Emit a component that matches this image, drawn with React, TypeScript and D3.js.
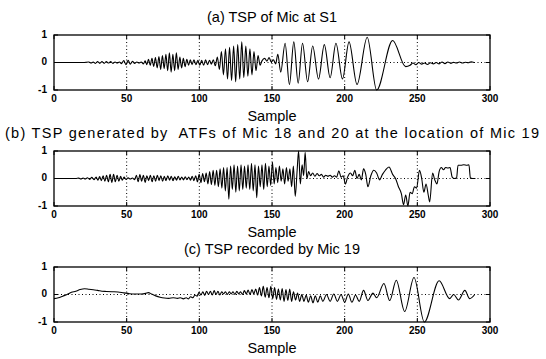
import React from 'react';
import * as d3 from 'd3';

// --- DATA ---
const xTicks = [0, 50, 100, 150, 200, 250, 300];
const yTicks = [-1, 0, 1];
const titles = [
  '(a) TSP of Mic at S1',
  '(b) TSP generated by  ATFs of Mic 18 and 20 at the location of Mic 19',
  '(c) TSP recorded by Mic 19',
];
const xLabel = 'Sample';

// [sample, amplitude] turning points
const tspMicS1: [number, number][] = [
  [0, 0], [20, 0], [24, 0.02], [25.5, -0.02], [27, 0.02], [28.5, -0.03], [30, 0.03], [31.5, -0.03],
  [33, 0.03], [34.5, -0.03], [36, 0.03], [37.5, -0.02], [39, 0.03], [40.5, -0.03], [42, 0.02],
  [43.5, -0.02], [45, 0.02], [46.5, -0.04], [48, 0.07], [49.5, -0.08], [51, 0.08], [52.5, -0.06],
  [54, 0.04], [55.5, -0.03], [57, 0.02], [58.5, -0.02], [60, 0.02],
  [61.5, -0.05], [62.7, 0.06], [63.9, -0.08], [65, 0.12], [66.2, -0.1], [67.4, 0.15], [68.6, -0.14],
  [69.8, 0.18], [71, -0.2], [72.2, 0.22], [73.4, -0.25], [74.6, 0.25], [75.8, -0.22], [77, 0.3],
  [78.2, -0.3], [79.4, 0.35], [80.6, -0.35], [81.8, 0.3], [83, -0.3], [84.2, 0.35], [85.4, -0.25],
  [86.6, 0.2], [87.8, -0.2], [89, 0.15], [90.2, -0.15], [91.4, 0.12], [92.6, -0.1], [93.8, 0.1], [95, -0.08],
  [96.3, 0.1], [97.6, -0.08], [99, 0.08], [100.3, -0.1], [101.6, 0.08], [103, -0.1], [104.3, 0.1],
  [105.6, -0.08], [107, 0.08], [108.3, -0.06], [109.6, 0.1], [111, -0.12],
  [112.4, 0.2], [113.8, -0.25], [115.2, 0.4], [116.6, -0.45], [118, 0.5], [119.4, -0.6], [120.8, 0.55],
  [122.2, -0.65], [123.6, 0.6], [125, -0.7], [126.4, 0.65], [127.8, -0.6], [129.2, 0.75], [130.6, -0.55],
  [132, 0.6], [133.4, -0.5], [134.8, 0.5], [136.2, -0.45], [137.6, 0.4], [139, -0.3], [140.4, 0.25],
  [141.8, -0.1], [143, 0.05], [145, 0.15], [146.5, 0.05], [148, 0.18], [149.5, 0.02], [151, 0.1], [152.5, -0.05],
  [154, 0.3], [156, -0.35], [159, 0.7], [162, -0.8], [165, 0.75], [168, -0.75], [171, 0.7], [174.5, -0.7],
  [178, 0.6], [182, -0.6], [186, 0.65], [190, -0.55], [194, 0.7], [198.5, -0.6], [203, 0.75], [208.5, -0.8],
  [215.5, 0.92], [222, -1.0], [233, 0.8], [242, -0.15], [245, -0.1],
  [247, -0.02], [249, -0.08], [251, 0.0], [253, -0.06], [255, -0.02], [257, -0.07], [259, -0.01],
  [261, -0.05], [263, 0.0], [265, -0.05], [267, 0.02], [269, -0.04], [271, 0.02], [273, -0.03],
  [275, 0.01], [277, -0.02], [279, 0.02], [281, -0.02], [283, 0.01], [285, -0.01], [287, 0.03], [289, 0.0],
];

const tspGenerated: [number, number][] = [
  [0, 0], [15, 0], [17, 0.02], [18.5, -0.02], [20, 0.02], [21.5, -0.02], [23, 0.03], [24.5, -0.03],
  [26, 0.04], [27.5, -0.04], [29, 0.05],
  [30.2, -0.06], [31.4, 0.07], [32.6, -0.08], [33.8, 0.1], [35, -0.1], [36.2, 0.12], [37.4, -0.12],
  [38.6, 0.15], [39.8, -0.14], [41, 0.15], [42.2, -0.12], [43.4, 0.12], [44.6, -0.1], [45.8, 0.08],
  [47, -0.06], [48.2, 0.05], [49.5, -0.03], [51, 0.03], [52.5, -0.02], [54, 0.02], [55.5, -0.04],
  [56.7, 0.12], [57.9, -0.12], [59.1, 0.14], [60.3, -0.1], [61.5, 0.12], [62.7, -0.14], [63.9, 0.1],
  [65.1, -0.08], [66.3, 0.12], [67.5, -0.12], [68.7, 0.1], [69.9, -0.1], [71.1, 0.12], [72.3, -0.08],
  [73.5, 0.1], [74.7, -0.1], [75.9, 0.08], [77.1, -0.08], [78.3, 0.1], [79.5, -0.06], [80.7, 0.08],
  [81.9, -0.08], [83.1, 0.06], [84.3, -0.06], [85.5, 0.08], [86.7, -0.05], [87.9, 0.05], [89.1, -0.05],
  [90.3, 0.06], [91.5, -0.04], [92.7, 0.05], [93.9, -0.06], [95.1, 0.08],
  [96.3, -0.08], [97.5, 0.1], [98.7, -0.12], [99.9, 0.15], [101.1, -0.15], [102.3, 0.18], [103.5, -0.12],
  [104.7, 0.2], [105.9, -0.2], [107.1, 0.25], [108.3, -0.22], [109.5, 0.3], [110.7, -0.25], [111.9, 0.3],
  [113.1, -0.3], [114.3, 0.35], [115.5, -0.35], [116.7, 0.4], [117.9, -0.45], [119.1, 0.4], [120.3, -0.75],
  [121.5, 0.45], [122.7, -0.4], [123.9, 0.5], [125.1, -0.5], [126.3, 0.45], [127.5, -0.45], [128.7, 0.5],
  [129.9, -0.4], [131.1, 0.45], [132.3, -0.35], [133.5, 0.5], [134.7, -0.4], [135.9, 0.55], [137.1, -0.45],
  [138.3, 0.5], [139.5, -0.7], [140.7, 0.45], [141.9, -0.3], [143.1, 0.5], [144.3, -0.4], [145.5, 0.55],
  [146.7, -0.3], [147.9, 0.45], [149.1, -0.25], [150.3, 0.6], [151.5, -0.2], [152.7, 0.4], [153.9, -0.15],
  [155.1, 0.45], [156.3, -0.1], [157.5, 0.35], [158.7, -0.2], [159.9, 0.4], [161.1, -0.1], [162.3, 0.35],
  [163.5, -0.3], [164.7, 0.45], [166, -0.65], [167.3, 0.3], [168.3, 1.0], [169.5, -0.2], [170.7, 0.5],
  [171.8, 0.1], [172.8, 0.95], [174, 0.0], [175.2, 0.25],
  [176.5, 0.1], [178, 0.2], [179.5, 0.08], [181, 0.18], [182.5, 0.1], [184, 0.15], [185.5, 0.05],
  [187, 0.12], [188.5, 0.08], [190, 0.12], [191.5, 0.05], [193, 0.1], [194.5, 0.05], [196, 0.28],
  [197.5, 0.05], [199, 0.1], [200.5, -0.2], [202, 0.05],
  [204, 0.2], [205.5, 0.1], [207, 0.3], [208.5, 0.0], [210, 0.15], [211.5, -0.05], [213, 0.35],
  [214.5, 0.15], [216, -0.3], [218, 0.1], [220, 0.3], [222, 0.2], [224, -0.05], [226, 0.15], [228, 0.3],
  [230.5, 0.42], [233, 0.15], [235, 0.0], [237, -0.3], [239, -0.55], [240.5, -0.95], [242, -0.6],
  [243.5, -1.0], [245, -0.5], [246.5, -0.55], [248, -0.3], [249.5, -0.35], [251.5, 0.3], [253, 0.0],
  [254.5, -0.5], [256, -0.2], [257.5, -0.6], [258.5, -0.85], [260.5, 0.2], [262, -0.05], [263.5, -0.2],
  [265, 0.25], [266.5, 0.4], [268, 0.32], [269.5, 0.4], [271, 0.38], [272.5, 0.4], [274, 0.05],
  [275.5, 0.0], [277, 0.02], [278, 0.48], [280, 0.48], [282, 0.5], [284, 0.48], [285.5, 0.5],
  [286.5, 0.02], [288, 0.0], [290, 0.0],
];

const tspRecorded: [number, number][] = [
  [0, -0.15], [3, -0.12], [6, -0.06], [9, 0.0], [12, 0.08], [15, 0.12], [18, 0.18], [21, 0.21],
  [24, 0.19], [27, 0.17], [30, 0.15], [33, 0.12], [36, 0.11], [40, 0.1], [44, 0.09], [48, 0.06],
  [52, 0.03], [56, 0.02], [60, 0.02], [63, 0.04], [65, 0.07], [67, 0.02], [70, -0.05], [73, -0.1],
  [76, -0.13], [79, -0.14], [82, -0.12], [85, -0.14], [87, -0.12], [89, -0.16], [91, -0.12],
  [92.5, -0.16], [94, -0.08], [95.5, -0.12], [97, -0.02], [98.5, -0.06],
  [99.8, 0.08], [101.1, -0.02], [102.4, 0.1], [103.7, -0.03], [105, 0.12], [106.3, 0.0], [107.6, 0.12],
  [108.9, -0.02], [110.2, 0.14], [111.5, 0.0], [112.8, 0.12], [114.1, -0.02], [115.4, 0.1], [116.7, 0.02],
  [118, 0.1], [119.3, 0.0], [120.6, 0.1], [121.9, 0.02], [123.2, 0.1], [124.5, 0.0], [125.8, 0.12],
  [127.1, 0.02], [128.4, 0.1], [129.7, 0.0], [131, 0.14], [132.3, 0.02], [133.6, 0.16], [134.9, 0.0],
  [136.2, 0.18], [137.5, 0.02], [138.8, 0.2], [140.1, -0.02], [141.4, 0.25], [142.7, -0.05], [144, 0.3],
  [145.3, -0.1], [146.6, 0.25], [147.9, -0.12], [149.2, 0.3], [150.5, -0.15], [151.8, 0.25], [153.1, -0.18],
  [154.4, 0.2], [155.7, -0.2], [157, 0.22], [158.3, -0.25], [159.6, 0.18], [160.9, -0.22], [162.2, 0.2],
  [163.5, -0.25], [164.8, 0.1], [166.2, -0.2], [167.6, 0.05], [169, -0.25], [170.5, 0.0], [172, -0.25],
  [173.5, -0.02], [175, -0.28], [176.6, -0.05], [178.2, -0.3], [179.8, -0.05], [181.5, -0.28],
  [183.2, -0.05], [185, -0.25],
  [187.5, 0.0], [190, -0.25], [192.5, 0.02], [195, -0.25], [197.5, 0.0], [200, -0.28], [202.5, 0.02],
  [205, -0.28], [207.5, -0.02], [210, -0.25], [213, 0.15], [216, -0.22], [219.5, 0.05], [222, -0.12],
  [227, 0.4], [231, -0.22], [235.5, 0.52], [241.3, -0.62], [247.7, 0.62], [254.8, -1.0], [265, 0.5],
  [272.3, -0.15], [275, 0.0], [278.3, -0.2], [282.7, 0.15], [286, -0.15], [289.5, 0.0],
];

const series = [tspMicS1, tspGenerated, tspRecorded];

// --- LAYOUT ---
const W = 546;
const H = 359;
const plotLeft = 54;
const plotRight = 490;
const panelTops = [35, 151, 267];
const panelHeight = 55;
const font = '"Liberation Sans", Arial, Helvetica, sans-serif';

const x = d3.scaleLinear().domain([0, 300]).range([plotLeft, plotRight]);
const line = d3.line<[number, number]>().curve(d3.curveMonotoneX);

const Panel: React.FC<{ top: number; title: string; data: [number, number][]; wide?: boolean }> = ({ top, title, data, wide }) => {
  const y = d3.scaleLinear().domain([-1, 1]).range([top + panelHeight, top]);
  line.x(d => x(d[0])).y(d => y(d[1]));
  const bottom = top + panelHeight;
  const cx = (plotLeft + plotRight) / 2;
  return (
    <g>
      <text x={cx} y={top - 17} textAnchor="middle" dominantBaseline="middle" fontSize={14.5}
        style={{ whiteSpace: 'pre' }} {...(wide ? { textLength: 534, lengthAdjust: 'spacing' } : {})}>
        {title}
      </text>
      {/* dotted grid */}
      {xTicks.slice(1, -1).map(t => (
        <line key={'gx' + t} x1={x(t)} x2={x(t)} y1={top} y2={bottom} stroke="#000" strokeWidth={1} strokeDasharray="1 2.5" />
      ))}
      <line x1={plotLeft} x2={plotRight} y1={y(0)} y2={y(0)} stroke="#000" strokeWidth={1} strokeDasharray="1 2.5" />
      {/* ticks */}
      {xTicks.map(t => (
        <g key={'tx' + t}>
          <line x1={x(t)} x2={x(t)} y1={bottom} y2={bottom - 4} stroke="#000" />
          <line x1={x(t)} x2={x(t)} y1={top} y2={top + 4} stroke="#000" />
          <text x={x(t)} y={bottom + 9} textAnchor="middle" dominantBaseline="middle" fontSize={10} fontWeight="bold">
            {t}
          </text>
        </g>
      ))}
      {yTicks.map(t => (
        <g key={'ty' + t}>
          <line x1={plotLeft} x2={plotLeft + 4} y1={y(t)} y2={y(t)} stroke="#000" />
          <line x1={plotRight} x2={plotRight - 4} y1={y(t)} y2={y(t)} stroke="#000" />
          <text x={plotLeft - 7} y={y(t)} textAnchor="end" dominantBaseline="middle" fontSize={10} fontWeight="bold">
            {t}
          </text>
        </g>
      ))}
      <path d={line(data) || ''} fill="none" stroke="#000" strokeWidth={1.1} strokeLinejoin="round" />
      <rect x={plotLeft} y={top} width={plotRight - plotLeft} height={panelHeight} fill="none" stroke="#000" strokeWidth={1.3} />
      <text x={cx} y={bottom + 27} textAnchor="middle" dominantBaseline="middle" fontSize={14.5}>
        {xLabel}
      </text>
    </g>
  );
};

export default function App() {
  return (
    <svg width={W} height={H} viewBox={`0 0 ${W} ${H}`} fontFamily={font}
      style={{ position: 'absolute', left: 0, top: 0, background: '#fff' }}>
      <rect width={W} height={H} fill="#fff" />
      {panelTops.map((top, i) => (
        <Panel key={i} top={top} title={titles[i]} data={series[i]} wide={i === 1} />
      ))}
    </svg>
  );
}
